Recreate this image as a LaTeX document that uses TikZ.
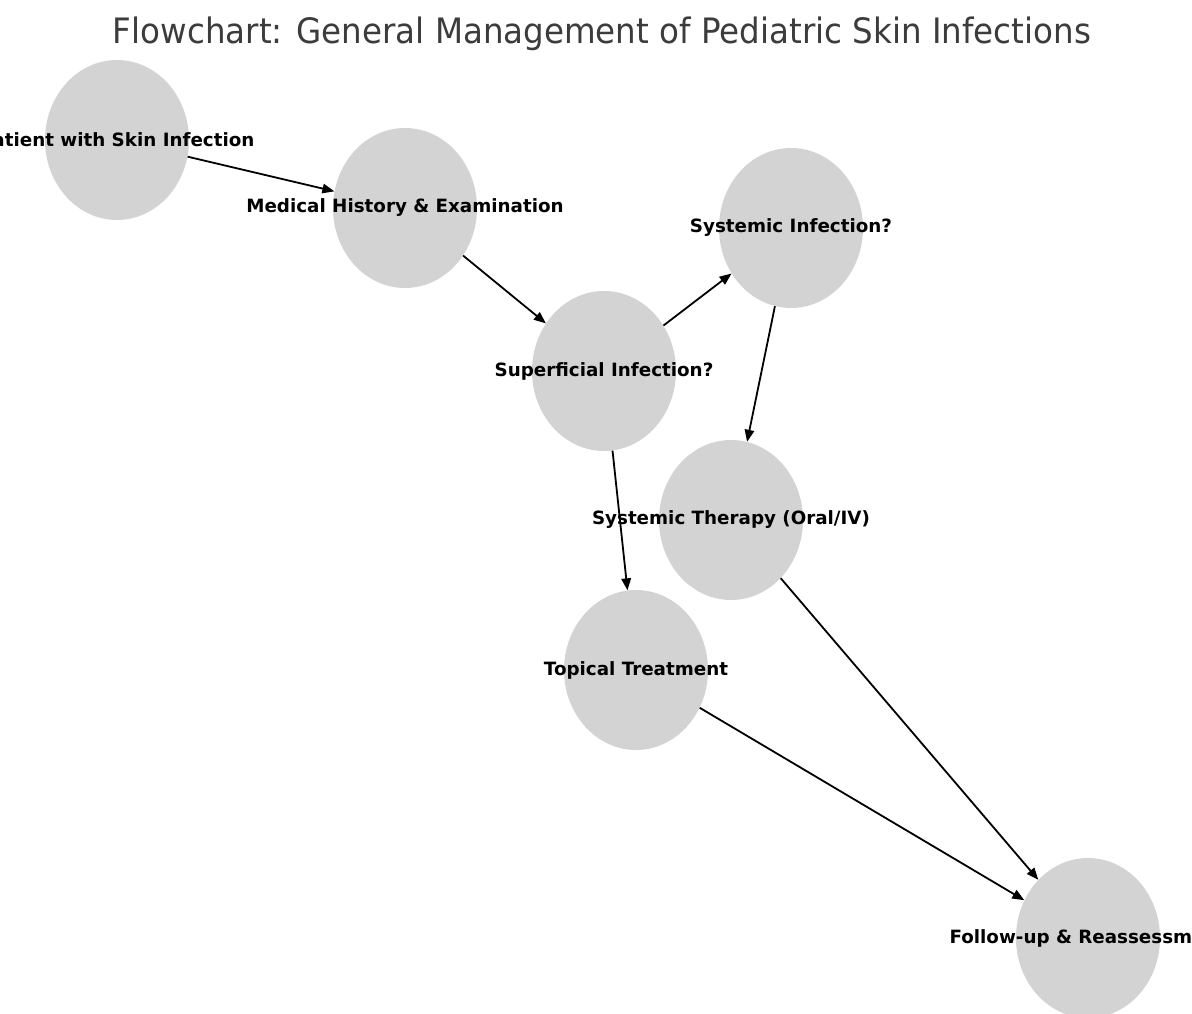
\documentclass[tikz,border=0pt]{standalone}
\usepackage{fontspec}
\setmainfont{DejaVu Sans}
\usepackage{graphicx}
\usetikzlibrary{shapes.geometric,arrows.meta}
\definecolor{nodefill}{HTML}{D3D3D3}
\definecolor{titlegray}{HTML}{3C3C3C}
\tikzset{
  bubble/.style={ellipse, fill=nodefill, draw=none, minimum width=144pt, minimum height=160pt, inner sep=0pt},
  lbl/.style={font=\fontsize{18.3}{20}\selectfont\bfseries, text=black, inner sep=0pt},
  conn/.style={line width=1.8pt, -{Triangle[length=12pt,width=9.5pt]}, black}
}
\begin{document}
\begin{tikzpicture}[x=1pt,y=-1pt]
\useasboundingbox (0,0) rectangle (1192,1014);
\fill[white] (0,0) rectangle (1192,1014);
\clip (0,0) rectangle (1192,1014);
% title
\node[anchor=base, text=titlegray, inner sep=0pt] (title) at (602,43.3)
  {\resizebox{978pt}{\height}{\fontsize{35}{40}\selectfont Flowchart: General Management of Pediatric Skin Infections}};
% nodes
\node[bubble] (pat) at (117,140) {};
\node[bubble] (med) at (405,208) {};
\node[bubble] (sys) at (791,228) {};
\node[bubble] (sup) at (604,371) {};
\node[bubble] (the) at (731,520) {};
\node[bubble] (top) at (636,670) {};
\node[bubble] (fol) at (1088,938) {};
% connectors
\draw[conn] (pat) -- (med);
\draw[conn] (med) -- (sup);
\draw[conn] (sup) -- (sys);
\draw[conn] (sys) -- (the);
\draw[conn] (sup) -- (top);
\draw[conn] (the) -- (fol);
\draw[conn] (top) -- (fol);
% labels
\node[lbl] (patl) at (pat) {Patient with Skin Infection};
\node[lbl] (medl) at (med) {Medical History \& Examination};
\node[lbl] (sysl) at (sys) {Systemic Infection?};
\node[lbl] (supl) at (sup) {Superficial Infection?};
\node[lbl] (thel) at (the) {Systemic Therapy (Oral/IV)};
\node[lbl] (topl) at (top) {Topical Treatment};
\node[lbl] (foll) at (fol) {Follow-up \& Reassessment};
\end{tikzpicture}
\end{document}
